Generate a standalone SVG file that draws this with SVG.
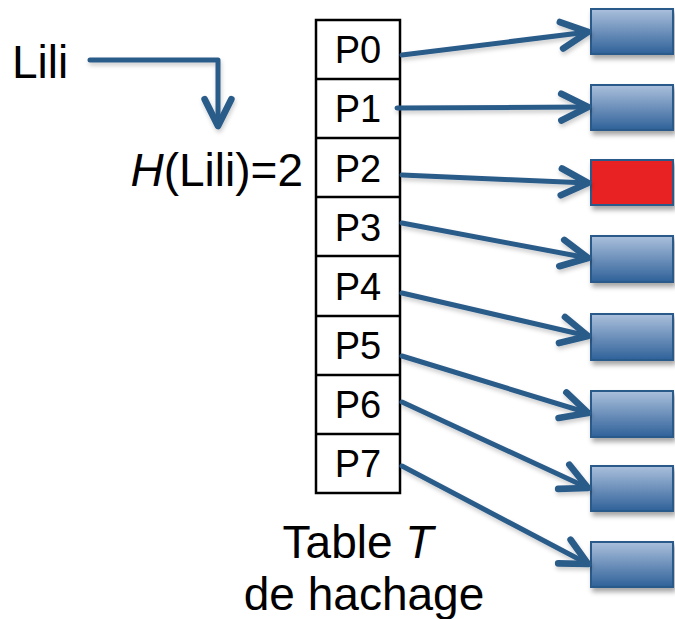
<svg xmlns="http://www.w3.org/2000/svg" width="675" height="619" viewBox="0 0 675 619">
<style>
text{font-family:"Liberation Sans",Arial,sans-serif;fill:#000}
.big{font-size:46px}
.cell{font-size:38px;text-anchor:middle}
.conn{stroke:#2b5b8a;stroke-width:5;fill:none;stroke-linecap:round;stroke-linejoin:round;marker-end:url(#ah)}
.box{fill:url(#bg);stroke:#2a5a8a;stroke-width:2}
.red{fill:#e82222;stroke:#2a5a8a;stroke-width:2}
.tab{fill:#fff;stroke:#000;stroke-width:2.5}
</style>
<defs>
<linearGradient id="bg" x1="0" y1="0" x2="0" y2="1">
<stop offset="0" stop-color="#abc0dc"/>
<stop offset="1" stop-color="#2f6199"/>
</linearGradient>
<filter id="sh" x="-20%" y="-20%" width="150%" height="170%">
<feDropShadow dx="2" dy="4" stdDeviation="2.5" flood-color="#000" flood-opacity="0.35"/>
</filter>
<filter id="lsh" x="-10%" y="-30%" width="120%" height="160%">
<feDropShadow dx="1" dy="3" stdDeviation="2" flood-color="#000" flood-opacity="0.2"/>
</filter>
<marker id="ah" markerUnits="userSpaceOnUse" markerWidth="40" markerHeight="40" viewBox="-25 -15 30 30" refX="0" refY="0" orient="auto" overflow="visible">
<path d="M-20,-10 L0,0 L-20,10" fill="none" stroke="#2b5b8a" stroke-width="5" stroke-linecap="round" stroke-linejoin="round"/>
</marker>
</defs>

<g id="lili"><text class="big" x="12" y="78" font-size="47">Lili</text></g>
<g id="hash"><text class="big" x="303" y="186" text-anchor="end"><tspan font-style="italic">H</tspan>(Lili)=2</text></g>

<g id="table">
<rect class="tab" x="316" y="20" width="84" height="473"/>
<line x1="316" y1="79" x2="400" y2="79" stroke="#000" stroke-width="2.5"/>
<line x1="316" y1="138" x2="400" y2="138" stroke="#000" stroke-width="2.5"/>
<line x1="316" y1="197" x2="400" y2="197" stroke="#000" stroke-width="2.5"/>
<line x1="316" y1="256" x2="400" y2="256" stroke="#000" stroke-width="2.5"/>
<line x1="316" y1="316" x2="400" y2="316" stroke="#000" stroke-width="2.5"/>
<line x1="316" y1="375" x2="400" y2="375" stroke="#000" stroke-width="2.5"/>
<line x1="316" y1="434" x2="400" y2="434" stroke="#000" stroke-width="2.5"/>
<text class="cell" x="358" y="63">P0</text>
<text class="cell" x="358" y="122">P1</text>
<text class="cell" x="358" y="182">P2</text>
<text class="cell" x="358" y="241">P3</text>
<text class="cell" x="358" y="300">P4</text>
<text class="cell" x="358" y="359">P5</text>
<text class="cell" x="358" y="418">P6</text>
<text class="cell" x="358" y="477">P7</text>
</g>
<g id="caption">
<text class="big" x="358" y="558" text-anchor="middle">Table <tspan font-style="italic">T</tspan></text>
<text class="big" x="364" y="610" text-anchor="middle" font-size="49">de hachage</text>
</g>

<g id="b0" filter="url(#sh)"><rect class="box" x="591" y="9" width="82" height="45"/></g>
<g id="b1" filter="url(#sh)"><rect class="box" x="591" y="85" width="82" height="45"/></g>
<g id="b2" filter="url(#sh)"><rect class="red" x="591" y="160" width="82" height="45"/></g>
<g id="b3" filter="url(#sh)"><rect class="box" x="591" y="236" width="82" height="46"/></g>
<g id="b4" filter="url(#sh)"><rect class="box" x="591" y="314" width="82" height="46"/></g>
<g id="b5" filter="url(#sh)"><rect class="box" x="591" y="391" width="82" height="46"/></g>
<g id="b6" filter="url(#sh)"><rect class="box" x="591" y="466" width="82" height="45"/></g>
<g id="b7" filter="url(#sh)"><rect class="box" x="591" y="542" width="82" height="45"/></g>

<g id="connectors" filter="url(#lsh)">
<path class="conn" d="M90,60 H218 V126"/>
<path class="conn" d="M402,55 L588,32"/>
<path class="conn" d="M397,108 L588,107"/>
<path class="conn" d="M402,175 L588,183"/>
<path class="conn" d="M402,223 L588,258"/>
<path class="conn" d="M402,293 L588,336"/>
<path class="conn" d="M402,356 L588,413"/>
<path class="conn" d="M402,402 L588,488"/>
<path class="conn" d="M402,466 L588,564"/>
</g>
</svg>
